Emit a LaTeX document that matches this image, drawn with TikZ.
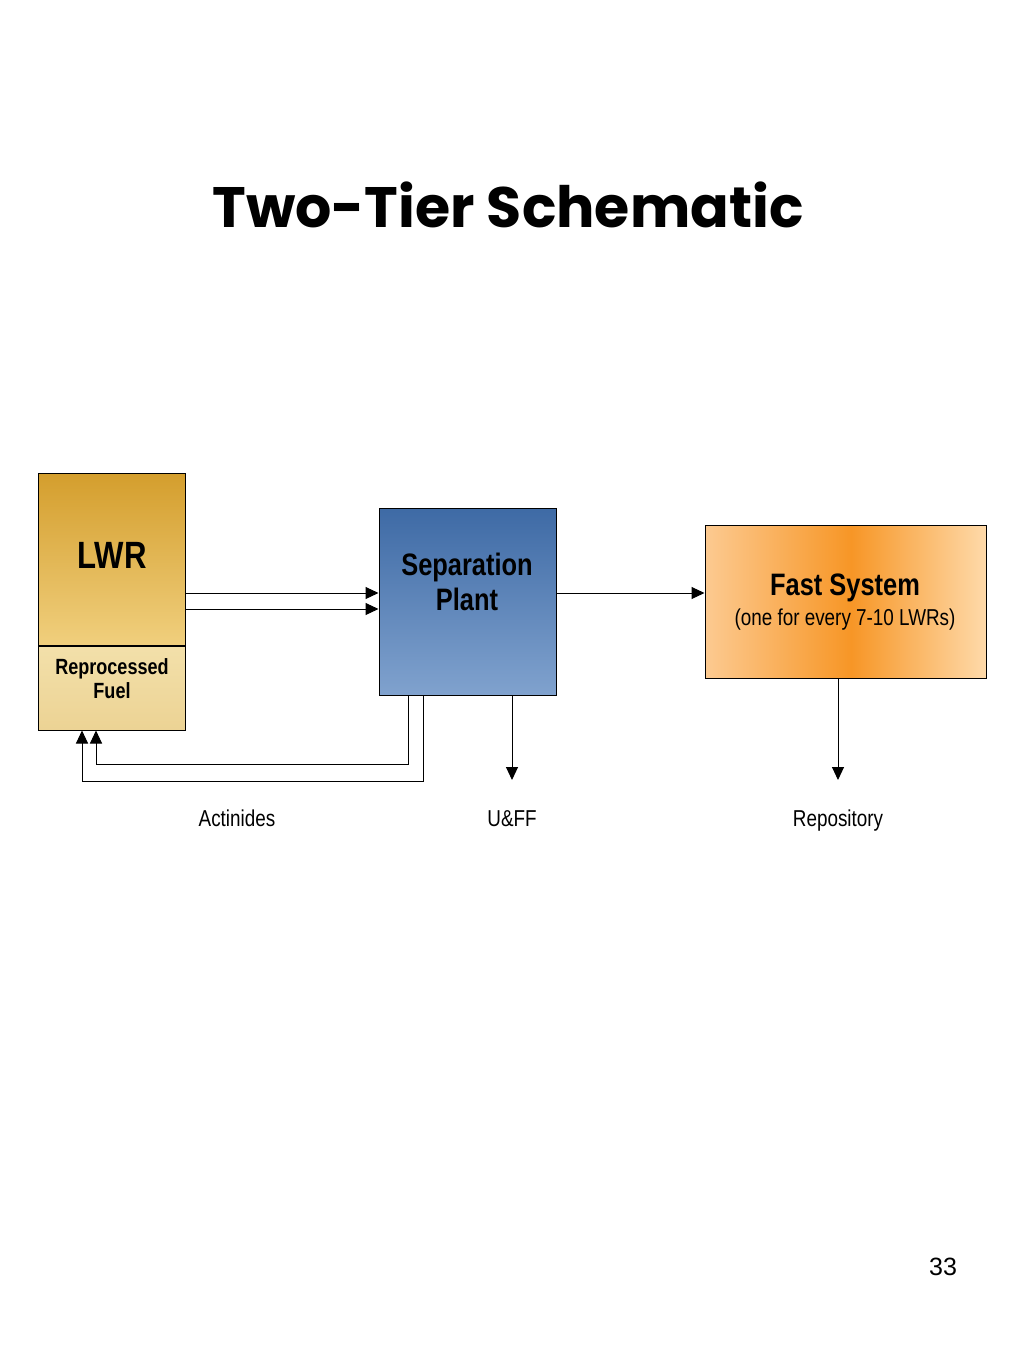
\documentclass[tikz,border=0pt]{standalone}
\usepackage{fontspec}
\setmainfont{Liberation Sans}
\newfontfamily\narrow[FakeStretch=0.82]{Liberation Sans}
\newfontfamily\titlefont{Poppins}
\usetikzlibrary{positioning, arrows.meta}
\definecolor{lwrtop}{RGB}{212,158,45}
\definecolor{lwrbot}{RGB}{240,207,125}
\definecolor{fueltop}{RGB}{243,224,170}
\definecolor{fuelbot}{RGB}{236,211,148}
\definecolor{septop}{RGB}{62,106,165}
\definecolor{sepbot}{RGB}{128,162,206}
\definecolor{fastleft}{RGB}{252,202,145}
\definecolor{fastmid}{RGB}{247,150,38}
\definecolor{fastright}{RGB}{254,218,170}
\pgfdeclarehorizontalshading{fastshade}{100bp}{color(0bp)=(fastleft); color(25bp)=(fastleft);
  color(51bp)=(fastmid); color(75bp)=(fastright); color(100bp)=(fastright)}

\begin{document}
\begin{tikzpicture}[x=1pt, y=1pt,
  box/.style={rectangle, draw, line width=1pt, inner sep=0pt},
  arr/.style={-{Triangle[length=13pt, width=12pt]}, line width=1pt},
  head/.style={font=\narrow\bfseries\fontsize{31}{35}\selectfont, align=center},
  lbl/.style={font=\narrow\fontsize{23}{26}\selectfont, anchor=base}
]
  \useasboundingbox (0,0) rectangle (1024,-1365);

  \node[font=\titlefont\bfseries\fontsize{57}{64}\selectfont] (title) at (508,-205) {Two-Tier Schematic};

  % boxes
  \node[box, top color=lwrtop, bottom color=lwrbot, minimum width=147pt, minimum height=172pt] (lwr) at (111.5,-559) {};
  \node[box, top color=fueltop, bottom color=fuelbot, minimum width=147pt, minimum height=84pt, below=0pt of lwr] (fuel) {};
  \node[box, top color=septop, bottom color=sepbot, minimum width=177pt, minimum height=187pt] (sep) at (467.5,-601.5) {};
  \node[box, shading=fastshade, minimum width=281pt, minimum height=153pt] (fast) at (845.5,-601.5) {};

  % box texts
  \node[font=\narrow\bfseries\fontsize{38}{42}\selectfont] (lwrtxt) at (112,-555) {LWR};
  \node[font=\narrow\bfseries\fontsize{22}{24}\selectfont, align=center] (fueltxt) at (112,-679) {Reprocessed\\Fuel};
  \node[head] (septxt) at (467,-582) {Separation\\Plant};
  \node[head, anchor=base] (fasttxt) at (845,-595) {Fast System};
  \node[lbl] (fastsub) at (845,-625) {(one for every 7-10 LWRs)};

  % flows
  \draw[arr] ([yshift=-34pt]lwr.east) -- ([yshift=8.5pt]sep.west);
  \draw[arr] ([yshift=-50pt]lwr.east) -- ([yshift=-7.5pt]sep.west);
  \draw[arr] ([yshift=8.5pt]sep.east) -- ([yshift=8.5pt]fast.west);
  \draw[arr] ([xshift=-59.5pt]sep.south) -- ++(0,-69) -| ([xshift=-15.5pt]fuel.south);
  \draw[arr] ([xshift=-44.5pt]sep.south) -- ++(0,-86) -| ([xshift=-29.5pt]fuel.south);

  \coordinate (uffend) at (512,-780);
  \coordinate (repend) at (838,-780);
  \draw[arr] (sep.south -| uffend) -- (uffend);
  \draw[arr] (fast.south -| repend) -- (repend);

  % labels
  \node[lbl] (actin) at (237,-826) {Actinides};
  \node[lbl] (uff) at (512,-826) {U\&FF};
  \node[lbl] (repo) at (838,-826) {Repository};

  \node[font=\fontsize{25}{28}\selectfont] (pagenum) at (943,-1267) {33};
\end{tikzpicture}
\end{document}
